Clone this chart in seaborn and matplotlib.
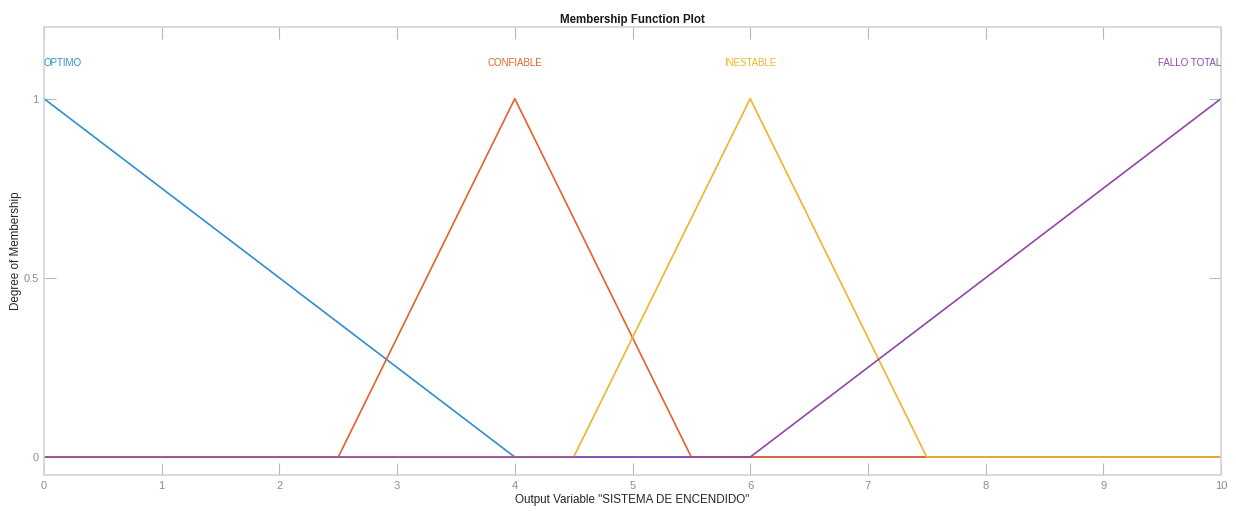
import matplotlib
matplotlib.use("Agg")
import matplotlib.pyplot as plt
import seaborn as sns
import pandas as pd

sns.set_theme(style="white")
plt.rcParams['font.family'] = ['Liberation Sans', 'DejaVu Sans']

mf_names = ["OPTIMO", "CONFIABLE", "INESTABLE", "FALLO TOTAL"]
optimo_x = [0, 4, 10]
optimo_y = [1, 0, 0]
confiable_x = [0, 2.5, 4, 5.5, 10]
confiable_y = [0, 0, 1, 0, 0]
inestable_x = [0, 4.5, 6, 7.5, 10]
inestable_y = [0, 0, 1, 0, 0]
fallo_x = [0, 6, 10]
fallo_y = [0, 0, 1]
label_x = [0, 4, 6, 10]
label_y = [1.1, 1.1, 1.1, 1.1]
colors = ["#2E8FD0", "#E5612B", "#EEB52A", "#9146A8"]
xticks = [0, 1, 2, 3, 4, 5, 6, 7, 8, 9, 10]
yticks = [0, 0.5, 1]
ytick_labels = ["0", "0.5", "1"]

fig = plt.figure(figsize=(12.36, 5.11), dpi=100)
ax = fig.add_axes([44/1236, 1-475/511, (1221-44)/1236, (475-27)/511])

series = [(optimo_x, optimo_y), (confiable_x, confiable_y),
          (inestable_x, inestable_y), (fallo_x, fallo_y)]
for name, (xs, ys), c in zip(mf_names, series, colors):
    df = pd.DataFrame({"x": xs, "y": ys})
    sns.lineplot(data=df, x="x", y="y", ax=ax, color=c, linewidth=1.2,
                 estimator=None, sort=False)

aligns = ["left", "center", "center", "right"]
for name, lx, ly, c, ha in zip(mf_names, label_x, label_y, colors, aligns):
    ax.text(lx, ly, name, color=c, ha=ha, va="center", fontsize=7)

ax.set_xlim(0, 10)
ax.set_ylim(-0.05, 1.2)
ax.set_xticks(xticks)
ax.set_yticks(yticks)
ax.set_yticklabels(ytick_labels)
ax.tick_params(direction="in", length=8.5, width=0.8, color="#b8b8b8",
               labelcolor="#8c8c8c", labelsize=8, top=True, right=True,
               bottom=True, left=True, pad=4)
for s in ax.spines.values():
    s.set_color("#d4d4d4")
    s.set_linewidth(1.2)
ax.set_xlabel('Output Variable "SISTEMA DE ENCENDIDO"', fontsize=8.4,
              color="#262626", va="center")
ax.set_ylabel("Degree of Membership", fontsize=8.4, color="#262626",
              va="center")
ax.xaxis.set_label_coords(0.5, -(500 - 475) / 448)
ax.yaxis.set_label_coords(-(44 - 16) / 1177, 0.5)
ax.set_title("Membership Function Plot", fontsize=8.3, fontweight="bold",
             color="#1a1a1a", pad=3)
fig.savefig("out.png", dpi=100, facecolor="white")
